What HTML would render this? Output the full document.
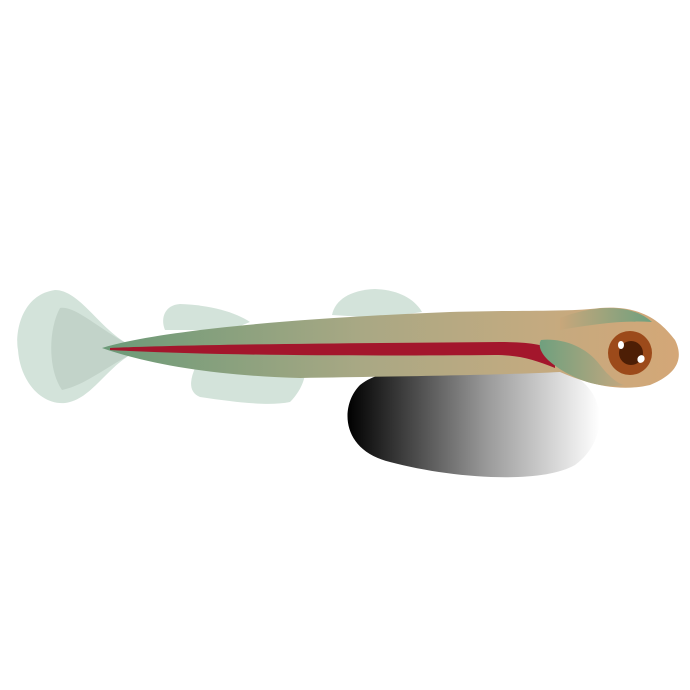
<!DOCTYPE html>
<html><head><meta charset="utf-8"><style>html,body{margin:0;padding:0;background:#fff}svg{display:block}</style></head>
<body>
<svg width="690" height="690" viewBox="0 0 690 690">
<defs>
<linearGradient id="rock" x1="0" x2="1" y1="0" y2="0"><stop offset="0" stop-color="#000"/><stop offset="0.55" stop-color="#999"/><stop offset="1" stop-color="#fff"/></linearGradient>
<linearGradient id="body" x1="0" x2="1" y1="0" y2="0"><stop offset="0" stop-color="#6b9a78"/><stop offset="0.45" stop-color="#a9a884"/><stop offset="0.75" stop-color="#c3aa80"/><stop offset="1" stop-color="#d4a777"/></linearGradient>
<linearGradient id="pect" x1="0" x2="1"><stop offset="0" stop-color="#6fa07e"/><stop offset="1" stop-color="#c3a77f"/></linearGradient>
<linearGradient id="topg" x1="0" x2="1"><stop offset="0" stop-color="#c8a77b"/><stop offset="1" stop-color="#6fa07e"/></linearGradient>
</defs>
<path d="M360,385 C390,360 500,355 560,370 C610,385 610,440 575,465 C540,485 450,478 390,462 C340,450 340,405 360,385Z" fill="url(#rock)"/>
<path d="M130,345 C100,330 80,290 55,290 C20,295 15,335 18,350 C20,380 40,405 65,403 C90,400 105,370 130,355Z" fill="#d3e3da"/>
<path d="M130,345 C100,330 75,305 60,308 C48,330 48,370 62,390 C85,385 105,368 130,355Z" fill="#c2d3c9"/>
<path d="M165,330 C160,318 165,305 180,304 C210,305 235,312 250,322 L230,330Z" fill="#d3e3da"/>
<path d="M332,315 C335,300 350,290 375,289 C400,290 415,300 422,312 L380,318Z" fill="#d3e3da"/>
<path d="M195,368 C190,380 188,392 200,397 C240,403 270,406 290,402 C300,392 305,380 305,372Z" fill="#d3e3da"/>
<path d="M102,348 C160,330 300,318 450,312 C520,310 570,312 600,308 C640,305 660,320 675,340 C685,360 675,375 650,385 C620,392 590,385 560,372 C500,375 420,376 300,378 C220,376 150,365 102,348Z" fill="url(#body)"/>
<path d="M560,318 C590,306 630,302 652,322 C620,320 590,325 560,330Z" fill="url(#topg)"/>
<path d="M110,348 C200,344 380,343 500,342 C530,342 545,345 555,350 L555,368 C535,360 520,355 495,355 C380,356 220,356 110,350Z" fill="#a3162c"/>
<path d="M541,340 C560,338 585,345 600,365 C610,378 620,385 625,385 C595,390 565,375 548,360 C540,352 538,345 541,340Z" fill="url(#pect)"/>
<circle cx="630" cy="353" r="22" fill="#9c4a1a"/>
<circle cx="631" cy="353" r="12" fill="#4d1e05"/>
<ellipse cx="621" cy="345" rx="3" ry="4" fill="#fff"/>
<ellipse cx="641" cy="359" rx="3.5" ry="4" transform="rotate(30 641 359)" fill="#fff"/>
</svg>
</body></html>
